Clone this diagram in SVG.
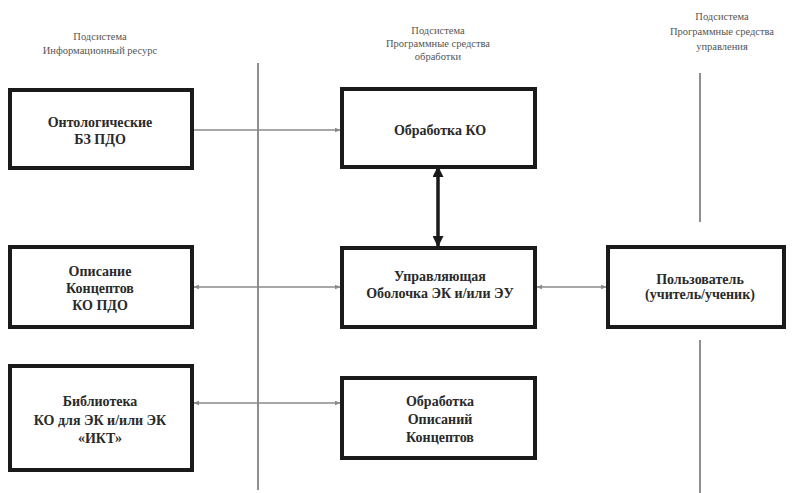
<svg xmlns="http://www.w3.org/2000/svg" width="792" height="493" viewBox="0 0 792 493" font-family="Liberation Serif, DejaVu Serif, serif">
<style>
.box{fill:#fff;stroke:#1a1a1a;stroke-width:4}
.t{font-weight:bold;font-size:14px;fill:#2a2a2a;text-anchor:middle}
.lab{font-size:10.5px;fill:#555;text-anchor:middle}
.sep{stroke:#6a6a6a;stroke-width:1.5;fill:none}
.c{stroke:#8a8a8a;stroke-width:1.5;fill:none}
</style>
<defs>
<marker id="ga" viewBox="0 0 10 10" refX="9" refY="5" markerWidth="6" markerHeight="6" orient="auto-start-reverse" markerUnits="userSpaceOnUse"><path d="M0,1 L10,5 L0,9 z" fill="#8a8a8a"/></marker>
<marker id="ba" viewBox="0 0 10 10" refX="9" refY="5" markerWidth="11" markerHeight="11" orient="auto-start-reverse" markerUnits="userSpaceOnUse"><path d="M0,0 L10,5 L0,10 z" fill="#1a1a1a"/></marker>
</defs>
<g id="labels">
<text class="lab" x="100" y="40">Подсистема</text>
<text class="lab" x="100" y="54">Информационный ресурс</text>
<text class="lab" x="438" y="34">Подсистема</text>
<text class="lab" x="438" y="47">Программные средства</text>
<text class="lab" x="438" y="60">обработки</text>
<text class="lab" x="722" y="20">Подсистема</text>
<text class="lab" x="722" y="35">Программные средства</text>
<text class="lab" x="722" y="50">управления</text>
</g>
<g id="separators">
<line class="sep" x1="258" y1="63" x2="258" y2="490"/>
<line class="sep" x1="700" y1="73" x2="700" y2="222"/>
<line class="sep" x1="700" y1="340" x2="700" y2="493"/>
</g>
<g id="connectors">
<line class="c" x1="194" y1="130" x2="340" y2="130" marker-end="url(#ga)"/>
<line class="c" x1="194" y1="287" x2="340" y2="287" marker-start="url(#ga)" marker-end="url(#ga)"/>
<line class="c" x1="194" y1="403" x2="340" y2="403" marker-start="url(#ga)" marker-end="url(#ga)"/>
<line class="c" x1="537" y1="287" x2="606" y2="287" marker-start="url(#ga)" marker-end="url(#ga)"/>
<line x1="438" y1="167" x2="438" y2="246" stroke="#1a1a1a" stroke-width="3.5" marker-start="url(#ba)" marker-end="url(#ba)"/>
</g>
<g id="n1"><rect class="box" x="10" y="90" width="182" height="78"/>
<text class="t" x="100" y="127">Онтологические</text>
<text class="t" x="100" y="144">БЗ ПДО</text></g>
<g id="n2"><rect class="box" x="10" y="247" width="182" height="80"/>
<text class="t" x="100" y="276">Описание</text>
<text class="t" x="100" y="293">Концептов</text>
<text class="t" x="100" y="310">КО ПДО</text></g>
<g id="n3"><rect class="box" x="10" y="366" width="182" height="104"/>
<text class="t" x="100" y="406">Библиотека</text>
<text class="t" x="100" y="425">КО для ЭК и/или ЭК</text>
<text class="t" x="100" y="443">«ИКТ»</text></g>
<g id="n4"><rect class="box" x="342" y="89" width="193" height="78"/>
<text class="t" x="440" y="135">Обработка КО</text></g>
<g id="n5"><rect class="box" x="342" y="248" width="193" height="79"/>
<text class="t" x="440" y="281">Управляющая</text>
<text class="t" x="440" y="298">Оболочка ЭК и/или ЭУ</text></g>
<g id="n6"><rect class="box" x="342" y="378" width="193" height="80"/>
<text class="t" x="440" y="406">Обработка</text>
<text class="t" x="440" y="424">Описаний</text>
<text class="t" x="440" y="442">Концептов</text></g>
<g id="n7"><rect class="box" x="608" y="247" width="176" height="80"/>
<text class="t" x="700" y="284">Пользователь</text>
<text class="t" x="700" y="299">(учитель/ученик)</text></g>
</svg>
